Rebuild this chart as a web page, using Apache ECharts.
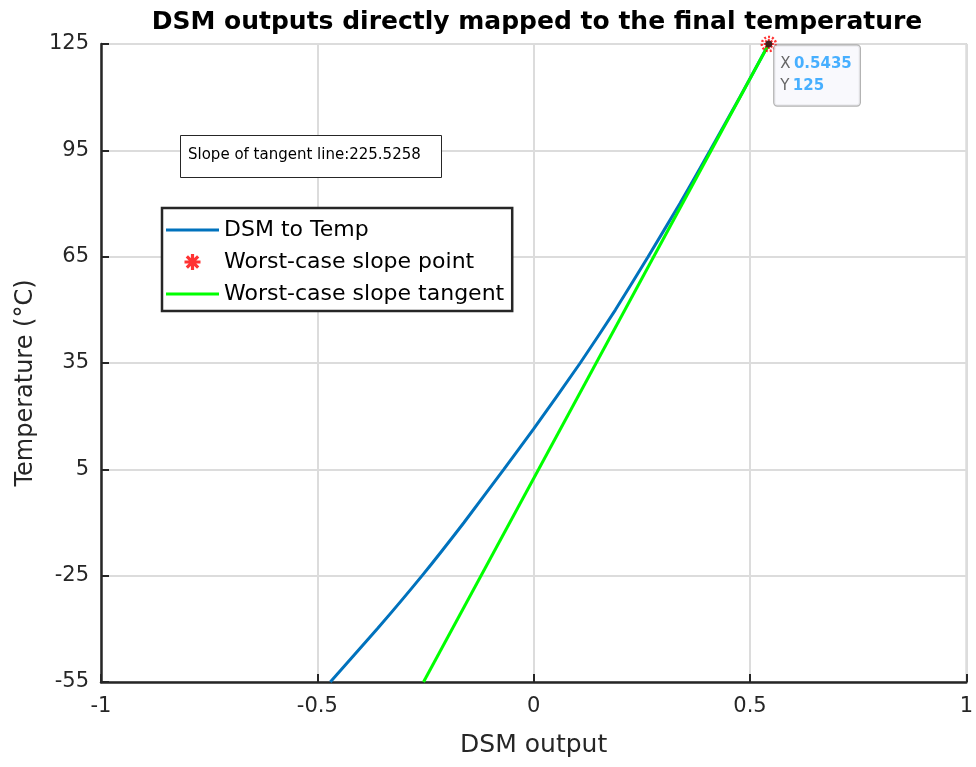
<!DOCTYPE html>
<html>
<head>
<meta charset="utf-8">
<script src="https://cdn.jsdelivr.net/npm/echarts@6/dist/echarts.min.js"></script>
<style>
html,body{margin:0;padding:0;background:#fff;}
#chart{width:976px;height:767px;}
</style>
</head>
<body>
<div id="chart"></div>
<script>
// ---- data ----
var dsmTempX = [-0.470, -0.3613, -0.2578, -0.161, -0.069, 0.0, 0.1076, 0.189, 0.2645, 0.338, 0.408, 0.4765, 0.5435];
var dsmTempY = [-55, -40, -25, -10, 5, 16.4, 35, 50, 65, 80, 95, 110, 125];
var worstX = [0.5435];
var worstY = [125];
var tangentX = [-0.2546, 0.5435];
var tangentY = [-55, 125];
var slopeValue = 225.5258;
var yTicks = [-55, -25, 5, 35, 65, 95, 125];
var xTicks = [-1, -0.5, 0, 0.5, 1];

function pairs(xs, ys){ return xs.map(function(x,i){ return [x, ys[i]]; }); }

// asterisk symbol path (MATLAB '*' marker)
function asteriskPath(){
  var s = [];
  var w = 0.2;
  [0, 45, 90, 135].forEach(function(deg){
    var a = deg*Math.PI/180, c = Math.cos(a), sn = Math.sin(a);
    var pts = [[-1,-w],[1,-w],[1,w],[-1,w]].map(function(p){
      return [(p[0]*c - p[1]*sn + 1)*10, (p[0]*sn + p[1]*c + 1)*10];
    });
    s.push('M' + pts.map(function(p){return p[0].toFixed(3)+' '+p[1].toFixed(3);}).join(' L') + ' Z');
  });
  return 'path://' + s.join(' ');
}
var AST = asteriskPath();
var LINE_ICON = 'path://M0 0 L53 0 L53 3 L0 3 Z';

var chart = echarts.init(document.getElementById('chart'), null, {renderer:'canvas'});
var FONT = 'DejaVu Sans, Liberation Sans, sans-serif';
var axisColor = '#262626';

var option = {
  backgroundColor: '#fff',
  animation: false,
  title: {
    text: 'DSM outputs directly mapped to the final temperature',
    left: 532, top: 5, textAlign: 'center',
    textStyle: {fontFamily: FONT, fontSize: 25, fontWeight: 'bold', color: '#000'}
  },
  grid: {left: 101, right: 5, top: 44, bottom: 85, show: true, borderColor: '#c4c4c4', borderWidth: 1.5},
  legend: {
    left: 162, top: 208,
    orient: 'vertical',
    backgroundColor: '#fff',
    borderColor: '#262626', borderWidth: 2.5,
    padding: [11, 8, 6, 4],
    itemGap: 10,
    itemWidth: 53, itemHeight: 16,
    textStyle: {fontFamily: FONT, fontSize: 22, color: '#000'},
    data: [
      {name: 'DSM to Temp', icon: LINE_ICON},
      {name: 'Worst-case slope point', icon: AST},
      {name: 'Worst-case slope tangent', icon: LINE_ICON}
    ]
  },
  xAxis: {
    type: 'value', min: -1, max: 1, interval: 0.5,
    name: 'DSM output', nameLocation: 'middle', nameGap: 51,
    nameTextStyle: {fontFamily: FONT, fontSize: 25, color: axisColor},
    axisLine: {onZero: false, lineStyle: {color: axisColor, width: 2.5}},
    axisTick: {inside: true, length: 8, lineStyle: {color: axisColor, width: 2}},
    axisLabel: {fontFamily: FONT, fontSize: 21, color: axisColor, margin: 14,
      formatter: function(v){ return String(v); }},
    splitLine: {show: true, lineStyle: {color: '#dcdcdc', width: 2}}
  },
  yAxis: {
    type: 'value', min: -55, max: 125,
    name: 'Temperature (°C)', nameLocation: 'middle', nameGap: 59, nameRotate: 90,
    nameTextStyle: {fontFamily: FONT, fontSize: 24, color: axisColor, padding: [0, 40, 0, 0]},
    axisLine: {show: true, onZero: false, lineStyle: {color: axisColor, width: 2.5}},
    axisTick: {show: true, inside: true, length: 8, customValues: yTicks, lineStyle: {color: axisColor, width: 2}},
    axisLabel: {fontFamily: FONT, fontSize: 21, color: axisColor, margin: 12, customValues: yTicks},
    splitLine: {show: true, lineStyle: {color: '#dcdcdc', width: 2}}
  },
  series: [
    {
      name: 'DSM to Temp', type: 'line', data: pairs(dsmTempX, dsmTempY),
      smooth: 0.15, symbol: 'none', lineStyle: {color: '#0072BD', width: 3}, itemStyle: {color: '#0072BD'}, z: 3
    },
    {
      name: 'Worst-case slope point', type: 'scatter', data: pairs(worstX, worstY),
      symbol: AST, symbolSize: 10, itemStyle: {color: '#ff0000'}, z: 5
    },
    {
      name: 'Worst-case slope tangent', type: 'line', data: pairs(tangentX, tangentY),
      symbol: 'none', lineStyle: {color: '#00ff00', width: 3}, itemStyle: {color: '#00ff00'}, z: 4
    },
    {
      name: 'datatipRing', type: 'scatter', data: pairs(worstX, worstY),
      symbol: 'circle', symbolSize: 14, silent: true,
      itemStyle: {color: 'rgba(0,0,0,0)', borderColor: '#ff0000', borderWidth: 2.5, borderType: [2, 2]}, z: 6
    },
    {
      name: 'datatip', type: 'scatter', data: pairs(worstX, worstY),
      symbol: 'circle', symbolSize: 7, silent: true,
      itemStyle: {color: '#1a1a1a'}, z: 7,
      label: {
        show: true, position: [9, 5], align: 'left', verticalAlign: 'top',
        backgroundColor: '#f7f7fc', borderColor: '#a0a0a0', borderWidth: 1.2, borderRadius: 3,
        padding: [8, 8, 8, 6], lineHeight: 22,
        formatter: function(p){
          return '{k|X} {v|' + p.value[0] + '}\n{k|Y} {v|' + p.value[1] + '}';
        },
        rich: {
          k: {fontFamily: FONT, fontSize: 15, color: '#404040', lineHeight: 22},
          v: {fontFamily: FONT, fontSize: 15, color: '#1a9cff', fontWeight: 'bold', lineHeight: 22}
        }
      }
    }
  ],
  graphic: [
    {
      type: 'rect', left: 180, top: 135, z: 10,
      shape: {width: 261, height: 42},
      style: {fill: '#fff', stroke: '#262626', lineWidth: 1}
    },
    {
      type: 'text', left: 188, top: 148, z: 11,
      style: {text: 'Slope of tangent line:' + slopeValue.toFixed(4), fontFamily: FONT, fontSize: 15, fill: '#000'}
    }
  ]
};
chart.setOption(option);
</script>
</body>
</html>
